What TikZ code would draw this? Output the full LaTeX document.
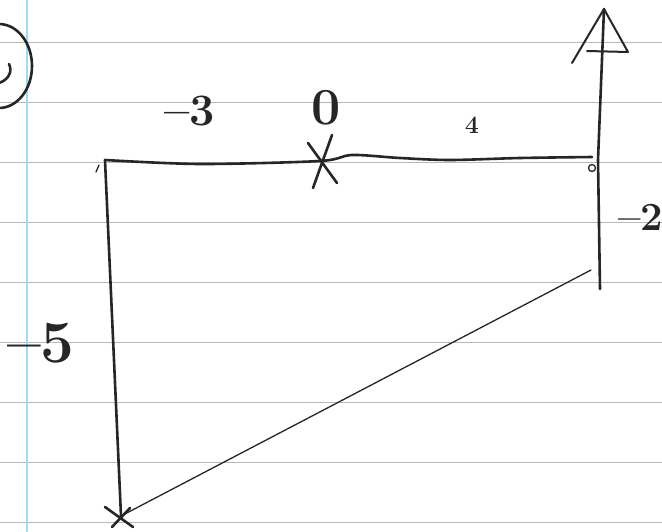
\documentclass[tikz,border=0pt]{standalone}
\usepackage{fontspec}
\begin{document}
\begin{tikzpicture}[x=1pt, y=-1pt, line cap=round, line join=round,
		pen/.style={draw=black!85, line width=2.6pt},
		thinpen/.style={draw=black!85, line width=1.3pt},
		paperline/.style={draw=black!28, line width=1pt},
		num/.style={font=\fontsize{#1}{#1}\selectfont\bfseries, text=black!85, inner sep=0pt}]
	\useasboundingbox (0,0) rectangle (662,531);
	\clip (0,0) rectangle (662,531);
	\fill[white] (0,0) rectangle (662,531);
	
	% 横格纸
	\foreach \y in {42,102,...,522} \draw[paperline] (0,\y) -- (662,\y);
	\draw[cyan!40, line width=2.5pt] (27,0) -- (27,531);
	
	% 圈号 (左上角, 被裁掉一半)
	\draw[pen] (-1,66) ellipse (33pt and 42pt);
	\draw[pen] (9,64) .. controls (13,72) and (8,80) .. (-1,83);
	
	% 各点
	\coordinate (tl) at (105,160);
	\coordinate (zero) at (320,161);
	\coordinate (tr) at (592,157);
	\coordinate (bl) at (121,516);
	\coordinate (rb) at (600,289);
	\coordinate (rt) at (604,9);
	\coordinate (diagEnd) at (591,270);
	
	% 上边 (波浪线)
	\draw[pen] plot[smooth] coordinates {(tl) (200,164) (zero) (352,155) (400,158) (450,160) (520,158) (tr)};
	
	% 左边
	\draw[pen] (tl) -- (bl);
	
	% 斜线
	\draw[thinpen] (bl) -- (diagEnd);
	
	% 右边竖线 + 空心三角箭头
	\draw[pen] (rb) -- (598,160) -- (rt);
	\draw[pen, line width=2pt, shift={(rt)}] (-32,54) -- (0,0) -- (24,43) -- (-17,42);
	
	% 小记号
	\draw[thinpen] (592,168) circle (3.5pt);
	\draw[thinpen] (96,172) -- (99,165);
	
	% 叉号
	\draw[pen, shift={(zero)}] (12,-26) -- (-7,27) (-12,-18) -- (17,22);
	\draw[pen, shift={(bl)}] (-16,-9) -- (12,11) (-9,11) -- (9,-8);
	
	% 标注
	\node[num=45, anchor=base west] (lMinusThree) at (164,125) {–3};
	\node[num=52, anchor=base] (lZero) at (326,124) {0};
	\node[num=25, anchor=base] (lFour) at (472,133) {4};
	\node[num=40, anchor=base west] (lMinusTwo) at (618,230) {–2};
	\node[num=60, anchor=base west] (lMinusFive) at (7,362) {–5};
\end{tikzpicture}
\end{document}
